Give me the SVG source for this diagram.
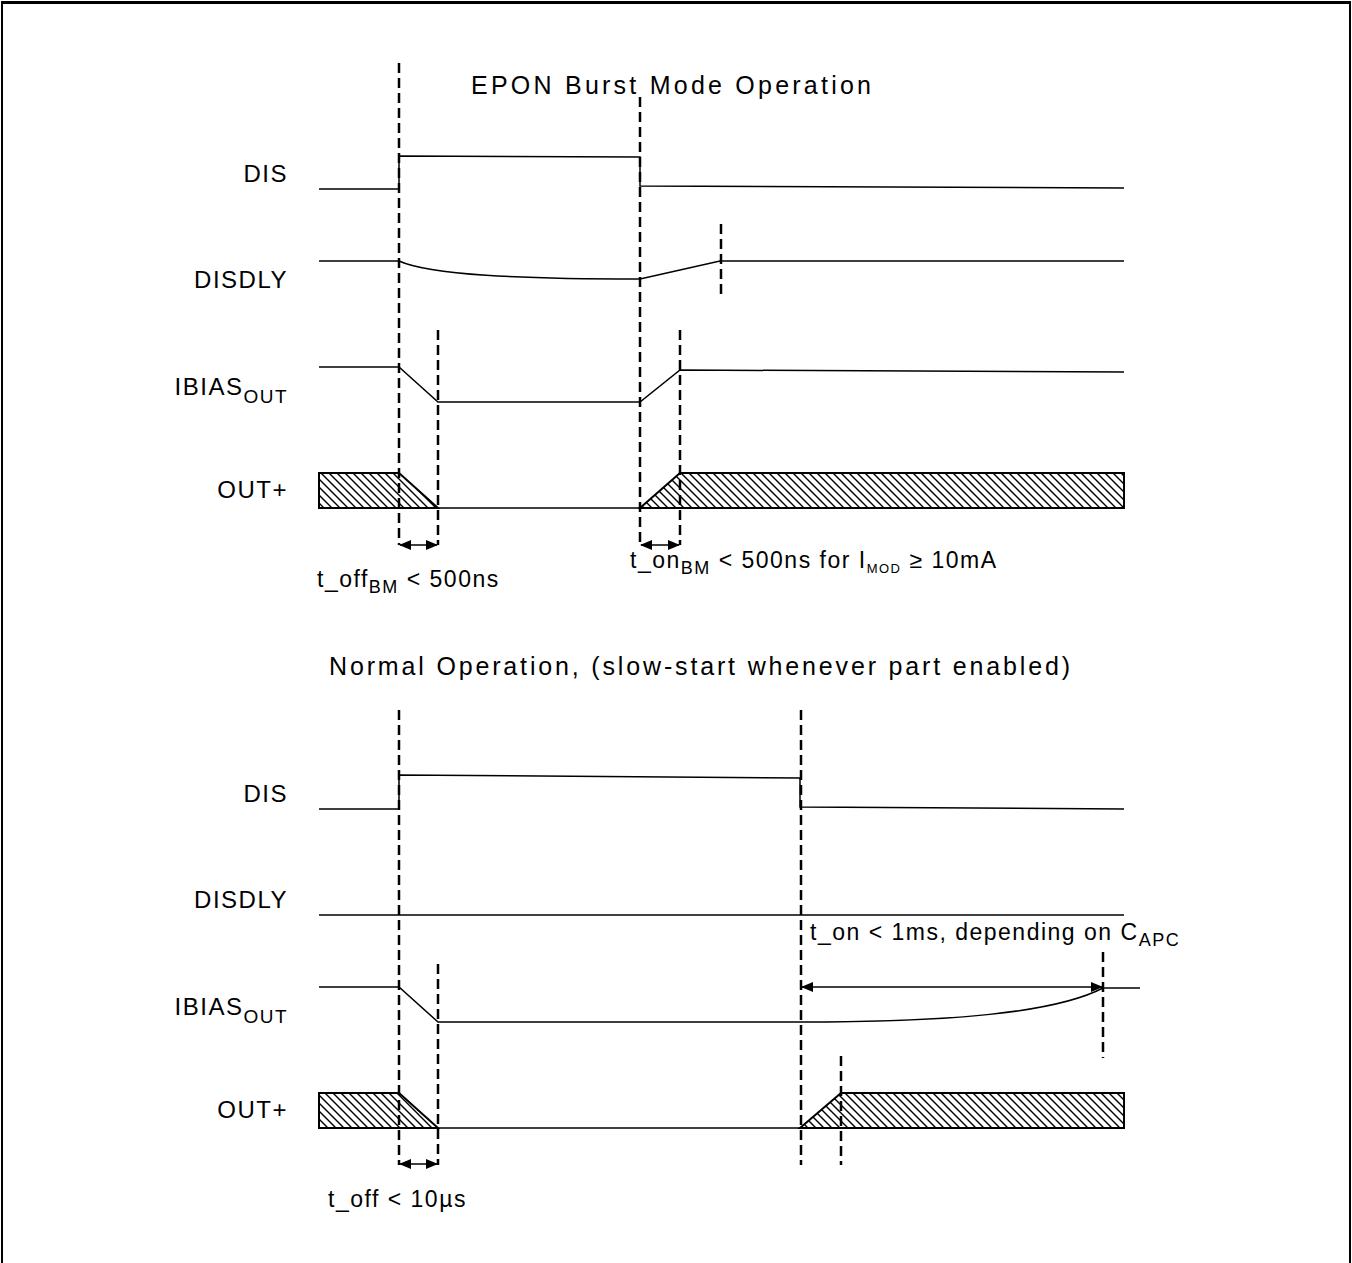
<svg xmlns="http://www.w3.org/2000/svg" width="1352" height="1263" viewBox="0 0 1352 1263">
<style>
text{font-family:"Liberation Sans",Arial,sans-serif;fill:#000}
.t{font-size:25px;letter-spacing:1px}
.lbl{font-size:24px;letter-spacing:1.5px;text-anchor:end}
.sm{font-size:23px;letter-spacing:1.5px}
.sig{fill:none;stroke:#000;stroke-width:1.5}
.dash{fill:none;stroke:#000;stroke-width:2.5;stroke-dasharray:10 5}
.hatch{fill:url(#hp);stroke:#000;stroke-width:2}
.arr{fill:none;stroke:#000;stroke-width:1.5;marker-start:url(#ah);marker-end:url(#ah)}
</style>
<defs>
<pattern id="hp" patternUnits="userSpaceOnUse" width="8" height="8">
<path d="M0 0L8 8M-2 6L2 10M6 -2L10 2" stroke="#000" stroke-width="1.4"/>
</pattern>
<marker id="ah" markerWidth="12" markerHeight="10" refX="11" refY="5" orient="auto-start-reverse" markerUnits="userSpaceOnUse">
<path d="M0 0L12 5L0 10Z" fill="#000"/>
</marker>
</defs>
<rect width="1352" height="1263" fill="#fff"/>
<g id="border" fill="none" stroke="#000">
<path d="M1 2.5H1351" stroke-width="3"/>
<path d="M2 2V1263M1350 2V1263" stroke-width="2"/>
</g>
<g id="titles">
<text class="t" x="471" y="94" textLength="401" lengthAdjust="spacing">EPON Burst Mode Operation</text>
<text class="t" x="329" y="675" textLength="742" lengthAdjust="spacing">Normal Operation, (slow-start whenever part enabled)</text>
</g>
<g id="labels-top">
<text class="lbl" x="288" y="182">DIS</text>
<text class="lbl" x="288" y="288">DISDLY</text>
<text class="lbl" x="288" y="395">IBIAS<tspan font-size="19" dy="8">OUT</tspan></text>
<text class="lbl" x="288" y="498">OUT+</text>
</g>
<g id="labels-bottom">
<text class="lbl" x="288" y="802">DIS</text>
<text class="lbl" x="288" y="908">DISDLY</text>
<text class="lbl" x="288" y="1015">IBIAS<tspan font-size="19" dy="8">OUT</tspan></text>
<text class="lbl" x="288" y="1118">OUT+</text>
</g>
<g id="signals-top">
<path class="sig" d="M319 189H399V156L640 157V186L1124 188"/>
<path class="sig" d="M319 261H399C430 275 520 279 640 279L720 261H1124"/>
<path class="sig" d="M319 367H399L438 402H640L680 370L1124 372"/>
<path class="hatch" d="M319 473H399L438 508H319Z"/>
<path class="sig" d="M438 508H640"/>
<path class="hatch" d="M640 508L680 473H1124V508Z"/>
</g>
<g id="signals-bottom">
<path class="sig" d="M319 809H399V775L800 778V807L1124 809"/>
<path class="sig" d="M319 915H1124"/>
<path class="sig" d="M319 987H399L438 1022H800C950 1022 1055 1013 1103 988H1140"/>
<path class="hatch" d="M319 1093H399L438 1128H319Z"/>
<path class="sig" d="M438 1128H800"/>
<path class="hatch" d="M800 1128L841 1093H1124V1128Z"/>
</g>
<g id="connectors">
<path class="dash" d="M399 63V545"/>
<path class="dash" d="M640 97V545"/>
<path class="dash" d="M438 330V545"/>
<path class="dash" d="M680 330V545"/>
<path class="dash" d="M721 224V298"/>
<path class="dash" d="M399 710V1165"/>
<path class="dash" d="M438 964V1165"/>
<path class="dash" d="M801 710V1165"/>
<path class="dash" d="M841 1056V1165"/>
<path class="dash" d="M1103 952V1058"/>
<path class="arr" d="M400 545H437"/>
<path class="arr" d="M641 545H679"/>
<path class="arr" d="M400 1164H437"/>
<path class="arr" d="M802 987H1102"/>
</g>
<g id="annotations">
<text class="sm" x="317" y="587">t_off<tspan font-size="18" dy="6">BM</tspan><tspan dy="-6"> &lt; 500ns</tspan></text>
<text class="sm" x="630" y="568" letter-spacing="1.9">t_on<tspan font-size="18" dy="6">BM</tspan><tspan dy="-6"> &lt; 500ns for I</tspan><tspan font-size="13" dy="5">MOD</tspan><tspan dy="-5"> ≥ 10mA</tspan></text>
<text class="sm" x="328" y="1207">t_off &lt; 10µs</text>
<text class="sm" x="810" y="940" letter-spacing="1.8">t_on &lt; 1ms, depending on C<tspan font-size="18" dy="6">APC</tspan></text>
</g>
</svg>
